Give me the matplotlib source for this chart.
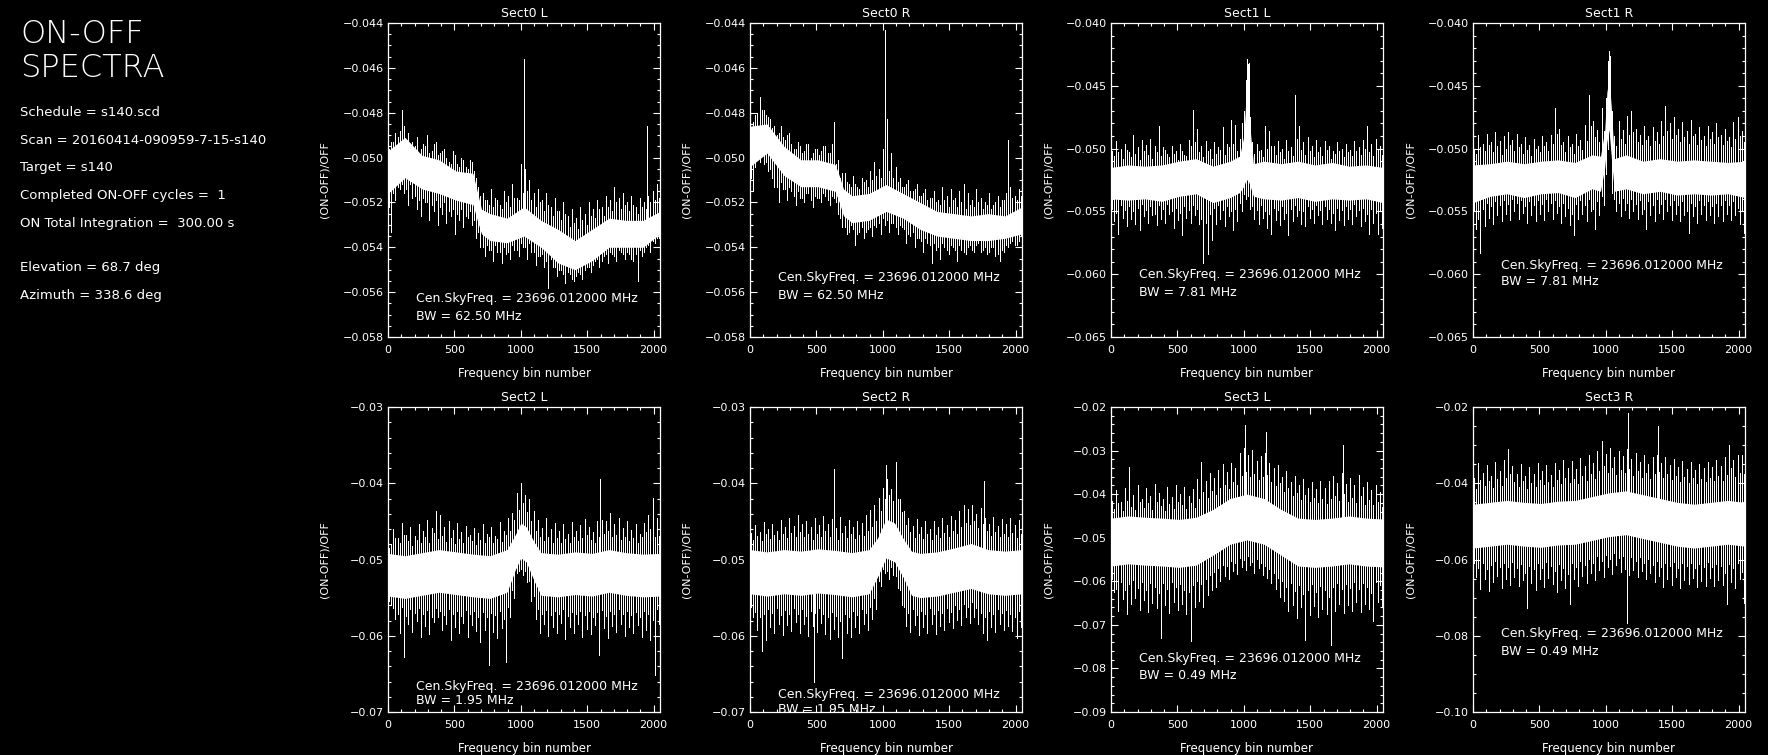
import numpy as np
import matplotlib
matplotlib.use("Agg")
import matplotlib.pyplot as plt
from matplotlib.ticker import MultipleLocator, FuncFormatter

# ---------------- data (values in units of 1e-3 of (ON-OFF)/OFF) ----------------
panel_titles = ["Sect0 L", "Sect0 R", "Sect1 L", "Sect1 R",
                "Sect2 L", "Sect2 R", "Sect3 L", "Sect3 R"]
bandwidths = ["62.50", "62.50", "7.81", "7.81", "1.95", "1.95", "0.49", "0.49"]
cen_freq = "23696.012000"

header = ["ON-OFF", "SPECTRA"]
info_lines = ["Schedule = s140.scd",
              "Scan = 20160414-090959-7-15-s140",
              "Target = s140",
              "Completed ON-OFF cycles =  1",
              "ON Total Integration =  300.00 s",
              "Elevation = 68.7 deg",
              "Azimuth = 338.6 deg"]

# channel columns at which the extents were read:
#   columns A (bins 8, 40, ...):  top = hi,  bottom = dn2
#   columns B (bins 24, 56, ...): top = up2, bottom = lo
bins_a = np.arange(8, 2048, 32)
bins_b = bins_a + 16

# ---- Sect0 L
s0l_core_bins = [0, 128, 256, 384, 512, 640, 672, 704, 768, 896, 1024, 1152, 1280, 1408, 1536, 1664, 1792, 1920, 2048]
s0l_core_top = [-49.7, -49.1, -49.9, -50.1, -50.6, -50.7, -51.5, -52.3, -52.5, -52.7, -52.2, -52.8, -53.2, -53.7, -53.2, -52.7, -52.8, -52.8, -52.4]
s0l_core_bot = [-51.6, -50.9, -51.4, -51.6, -51.9, -52.1, -52.8, -53.4, -53.7, -53.8, -53.5, -54.0, -54.7, -55.0, -54.6, -54.0, -54.0, -54.0, -53.4]
s0l_hi = [-49.6, -49.3, -49.1, -47.9, -49.2, -49.6, -49.5, -49.9, -49.4, -49.0, -49.7, -49.3, -49.8, -49.6, -50.2, -49.7,
          -50.3, -50.0, -50.4, -50.1, -50.6, -51.3, -51.6, -51.9, -51.4, -51.8, -52.1, -51.5, -51.7, -51.2, -51.8, -50.3,
          -50.5, -51.0, -51.6, -51.4, -51.9, -51.6, -52.2, -51.8, -52.4, -52.0, -52.6, -52.3, -52.7, -52.2, -52.5, -52.0,
          -52.3, -51.9, -52.2, -51.7, -51.9, -51.3, -51.8, -51.6, -52.0, -51.7, -52.2, -51.8, -52.0, -51.7, -51.5, -51.2]
s0l_up2 = [-49.3, -48.9, -48.8, -48.6, -48.9, -49.3, -49.1, -49.6, -49.5, -49.8, -49.4, -49.9, -49.7, -50.0, -50.3, -49.9,
           -50.4, -50.1, -50.5, -50.2, -50.9, -51.7, -51.9, -52.1, -52.2, -51.9, -52.3, -52.0, -52.2, -51.8, -51.9, -51.6,
           -51.5, -51.9, -52.2, -52.0, -52.4, -52.1, -52.6, -52.4, -52.8, -52.5, -53.1, -52.9, -53.2, -52.8, -53.0, -52.6,
           -52.7, -52.3, -52.6, -52.2, -52.4, -52.0, -52.3, -52.1, -52.4, -52.1, -52.5, -52.2, -52.3, -52.0, -51.9, -51.8]
s0l_lo = [-53.3, -51.9, -51.4, -51.6, -52.1, -51.8, -52.3, -52.6, -52.0, -52.8, -52.4, -53.0, -52.5, -52.9, -52.6, -53.4,
          -52.8, -53.1, -52.7, -53.0, -53.6, -54.0, -54.4, -54.1, -54.6, -54.2, -54.7, -54.3, -54.5, -54.1, -54.4, -54.0,
          -54.5, -54.2, -54.8, -54.4, -54.9, -55.8, -54.9, -55.3, -55.0, -55.6, -55.2, -55.5, -55.1, -55.4, -54.9, -55.1,
          -54.6, -54.9, -54.4, -54.7, -54.3, -54.6, -54.2, -54.5, -54.3, -54.6, -55.5, -54.4, -54.0, -54.2, -53.8, -53.6]
s0l_dn2 = [-52.2, -51.6, -51.3, -51.2, -51.4, -51.2, -51.7, -51.9, -51.8, -52.0, -52.1, -51.9, -52.2, -52.0, -52.4, -52.3,
           -52.5, -52.3, -52.6, -52.4, -52.8, -53.3, -54.0, -53.9, -54.1, -53.9, -54.2, -54.0, -54.2, -53.9, -54.1, -53.8,
           -54.0, -53.8, -54.2, -54.4, -54.3, -54.6, -54.5, -54.9, -55.0, -55.2, -55.1, -55.4, -55.3, -55.2, -55.0, -54.9,
           -54.8, -54.5, -54.6, -54.3, -54.2, -54.4, -54.1, -54.3, -54.2, -54.5, -54.3, -54.1, -54.2, -53.9, -53.7, -53.6]
s0l_spikes = [(1025, -45.6), (1950, -48.6)]

# ---- Sect0 R
s0r_core_bins = [0, 128, 256, 384, 512, 640, 672, 704, 768, 896, 1024, 1152, 1280, 1408, 1536, 1664, 1792, 1920, 2048]
s0r_core_top = [-48.6, -48.5, -49.5, -50.1, -50.1, -50.3, -50.8, -51.4, -51.7, -51.6, -51.2, -51.6, -52.0, -52.4, -52.5, -52.6, -52.5, -52.6, -52.2]
s0r_core_bot = [-50.4, -49.8, -50.8, -51.3, -51.3, -51.5, -52.0, -52.6, -52.9, -52.8, -52.4, -52.7, -53.2, -53.5, -53.6, -53.7, -53.7, -53.6, -53.4]
s0r_hi = [-48.9, -48.1, -47.3, -47.9, -48.2, -48.7, -49.0, -48.6, -49.2, -48.9, -49.6, -49.3, -49.8, -49.4, -50.0, -49.6,
          -49.9, -49.5, -49.8, -49.4, -50.3, -50.9, -50.7, -51.2, -50.8, -51.3, -50.9, -51.0, -50.6, -50.2, -50.5, -49.6,
          -48.3, -49.8, -50.4, -50.9, -51.3, -51.0, -51.5, -51.2, -51.7, -51.4, -51.8, -51.5, -51.9, -51.3, -51.7, -51.4,
          -51.8, -51.5, -51.2, -51.6, -51.9, -51.4, -51.8, -52.0, -51.6, -52.1, -51.7, -51.9, -51.6, -51.3, -51.7, -51.4]
s0r_up2 = [-48.4, -48.0, -47.9, -48.1, -48.3, -48.6, -48.9, -49.1, -49.0, -49.4, -49.6, -49.5, -49.7, -49.4, -49.8, -49.6,
           -49.7, -49.5, -49.8, -49.6, -50.1, -50.7, -51.1, -51.3, -51.2, -51.4, -51.1, -51.3, -51.0, -50.8, -50.9, -50.4,
           -50.6, -50.9, -51.1, -51.3, -51.2, -51.5, -51.4, -51.7, -51.6, -51.9, -51.8, -52.0, -52.1, -51.9, -52.2, -51.9,
           -52.2, -52.0, -52.3, -52.1, -52.2, -52.0, -52.3, -52.1, -52.3, -52.0, -52.2, -51.9, -52.1, -51.8, -51.9, -51.7]
s0r_lo = [-51.5, -50.0, -49.7, -50.2, -50.5, -51.3, -52.0, -51.4, -51.9, -51.5, -52.1, -51.8, -52.0, -51.6, -52.2, -51.8,
          -52.0, -51.7, -52.1, -51.8, -52.5, -53.1, -53.4, -53.0, -53.9, -53.3, -53.6, -53.2, -53.5, -53.1, -53.4, -53.0,
          -53.3, -52.9, -53.4, -53.1, -53.8, -53.5, -54.0, -53.6, -54.2, -53.8, -54.7, -54.1, -54.5, -54.0, -54.3, -54.0,
          -54.6, -54.1, -54.3, -53.9, -54.2, -53.8, -54.1, -54.3, -54.0, -54.4, -54.6, -54.2, -54.0, -53.7, -53.9, -53.5]
s0r_dn2 = [-50.9, -50.4, -50.2, -50.3, -50.6, -50.9, -51.3, -51.1, -51.4, -51.3, -51.7, -51.5, -51.8, -51.6, -51.9, -51.7,
           -51.8, -51.6, -51.9, -51.7, -52.0, -52.7, -53.1, -53.3, -53.2, -53.4, -53.1, -53.3, -53.1, -53.0, -52.9, -52.7,
           -52.8, -52.9, -53.1, -53.0, -53.2, -53.4, -53.3, -53.6, -53.7, -53.6, -53.9, -53.8, -54.0, -53.8, -54.1, -53.9,
           -54.1, -53.9, -54.2, -54.0, -54.1, -53.9, -54.2, -54.0, -54.2, -54.0, -54.3, -54.1, -53.9, -53.8, -53.9, -53.7]
s0r_spikes = [(1020, -44.3), (1945, -49.2), (630, -48.4)]

# ---- Sect1 L
s1l_core_bins = [0, 128, 256, 384, 512, 640, 768, 896, 968, 1000, 1016, 1032, 1048, 1072, 1152, 1280, 1408, 1536, 1664, 1792, 1920, 2048]
s1l_core_top = [-51.5, -51.3, -51.4, -51.3, -51.0, -50.8, -51.4, -51.0, -50.6, -49.0, -46.0, -45.5, -48.5, -51.2, -51.0, -51.2, -51.0, -51.3, -51.1, -51.4, -51.3, -51.5]
s1l_core_bot = [-54.0, -54.1, -54.0, -54.2, -53.8, -53.6, -54.3, -53.9, -53.5, -53.0, -52.5, -52.5, -53.0, -53.8, -54.0, -54.1, -53.9, -54.2, -54.0, -54.1, -54.0, -54.3]
s1l_hi = [-50.2, -49.4, -50.0, -49.6, -50.3, -48.9, -49.9, -49.3, -49.7, -49.2, -49.8, -48.2, -49.9, -50.4, -49.8, -50.2,
          -49.6, -50.5, -49.3, -46.9, -48.4, -49.8, -49.4, -50.0, -49.5, -49.9, -48.3, -49.6, -47.7, -48.1, -49.2, -47.0,
          -43.3, -49.5, -49.6, -50.1, -48.2, -48.6, -49.8, -49.4, -50.0, -49.3, -49.9, -45.7, -48.2, -49.5, -49.1, -49.8,
          -49.3, -49.9, -49.4, -49.8, -50.2, -49.5, -50.0, -49.6, -50.1, -49.4, -49.9, -49.3, -48.2, -49.6, -49.2, -49.8]
s1l_up2 = [-50.6, -50.3, -50.8, -50.1, -50.7, -50.4, -50.9, -50.2, -50.5, -50.8, -50.3, -50.6, -50.1, -50.7, -50.4, -50.9,
           -50.2, -50.6, -49.8, -49.5, -50.3, -50.7, -50.2, -50.8, -50.4, -50.1, -50.5, -49.9, -49.6, -50.2, -48.0, -44.5,
           -47.5, -50.4, -50.2, -50.7, -50.0, -49.8, -50.5, -50.3, -50.8, -50.2, -50.6, -49.2, -50.1, -50.5, -50.2, -50.7,
           -50.3, -50.6, -50.1, -50.8, -50.4, -50.2, -50.7, -50.3, -50.6, -50.2, -50.5, -50.0, -50.3, -50.6, -50.1, -50.5]
s1l_lo = [-55.8, -56.8, -55.5, -56.2, -55.6, -56.0, -56.5, -55.4, -55.9, -55.3, -56.1, -55.6, -55.9, -55.2, -56.3, -55.7,
          -56.9, -55.5, -55.9, -55.3, -56.0, -59.1, -58.4, -57.3, -56.0, -55.6, -56.2, -55.4, -56.5, -55.8, -55.0, -54.0,
          -54.8, -55.6, -56.0, -55.5, -56.3, -56.8, -55.7, -56.1, -55.6, -56.9, -55.8, -55.4, -56.0, -56.2, -55.5, -55.9,
          -55.3, -56.0, -55.6, -55.9, -56.5, -55.7, -56.1, -55.6, -56.0, -55.4, -56.2, -55.8, -56.8, -55.9, -56.8, -56.3]
s1l_dn2 = [-54.8, -55.1, -54.5, -54.9, -54.6, -55.0, -54.7, -54.4, -54.9, -54.6, -55.2, -54.5, -54.8, -54.4, -55.0, -54.7,
           -55.1, -54.6, -54.9, -54.5, -54.8, -55.6, -55.9, -55.2, -54.7, -54.5, -54.9, -54.6, -55.0, -54.8, -54.3, -53.6,
           -53.8, -54.6, -54.9, -54.5, -55.0, -55.2, -54.7, -54.9, -54.6, -55.1, -54.8, -54.5, -54.9, -55.0, -54.6, -54.8,
           -54.5, -54.9, -54.6, -54.8, -55.1, -54.7, -54.9, -54.6, -54.8, -54.4, -54.9, -54.7, -55.2, -54.8, -55.1, -54.9]
s1l_spikes = [(1024, -42.9), (1036, -43.2)]

# ---- Sect1 R
s1r_core_bins = [0, 128, 256, 384, 512, 640, 768, 896, 960, 992, 1008, 1024, 1040, 1064, 1152, 1280, 1408, 1536, 1664, 1792, 1920, 2048]
s1r_core_top = [-51.3, -51.2, -51.0, -51.2, -51.0, -50.9, -51.1, -50.5, -50.6, -48.5, -45.5, -44.5, -46.5, -50.8, -50.5, -51.0, -50.8, -51.0, -50.9, -51.0, -51.1, -51.0]
s1r_core_bot = [-54.3, -53.8, -53.6, -53.9, -53.6, -53.5, -53.9, -53.2, -53.4, -51.5, -49.5, -48.5, -50.5, -53.4, -53.2, -53.6, -53.4, -53.7, -53.6, -53.7, -53.6, -53.9]
s1r_hi = [-50.0, -48.9, -49.6, -48.8, -49.5, -48.7, -49.4, -49.0, -48.7, -49.3, -48.8, -49.6, -49.1, -49.7, -49.2, -49.8,
          -49.0, -49.5, -48.9, -46.8, -48.4, -49.5, -49.0, -49.6, -48.8, -49.3, -48.1, -45.7, -47.8, -48.5, -46.8, -46.0,
          -43.5, -49.0, -47.8, -48.5, -47.4, -47.0, -48.4, -48.9, -48.2, -49.0, -48.3, -48.7, -47.8, -46.6, -48.0, -47.5,
          -48.4, -47.9, -48.6, -47.7, -48.8, -48.3, -49.0, -48.2, -48.7, -48.0, -48.9, -48.4, -49.1, -47.9, -47.5, -48.6]
s1r_up2 = [-50.4, -49.9, -50.2, -49.7, -50.3, -49.8, -50.5, -50.0, -49.7, -50.2, -49.9, -50.4, -50.1, -50.6, -50.0, -50.3,
           -49.8, -50.2, -49.6, -48.8, -49.7, -50.3, -49.9, -50.4, -49.8, -50.1, -49.4, -48.2, -49.1, -49.5, -48.6, -43.0,
           -47.0, -49.8, -49.2, -49.6, -48.9, -48.7, -49.5, -49.7, -49.3, -49.8, -49.4, -49.6, -49.0, -48.6, -49.2, -48.9,
           -49.5, -49.1, -49.6, -49.0, -49.7, -49.3, -49.8, -49.2, -49.6, -49.1, -49.7, -49.4, -49.9, -49.2, -49.0, -49.5]
s1r_lo = [-56.4, -58.3, -56.2, -55.5, -56.0, -55.3, -55.8, -55.2, -55.7, -55.0, -55.6, -55.1, -55.9, -55.3, -55.8, -55.2,
          -55.7, -55.0, -55.6, -55.1, -55.9, -55.4, -56.1, -56.9, -55.6, -55.2, -55.8, -55.0, -56.4, -55.3, -54.5, -50.0,
          -53.5, -55.0, -55.4, -54.9, -55.5, -55.0, -55.6, -55.2, -56.4, -55.3, -55.8, -55.1, -55.6, -55.0, -55.7, -55.2,
          -55.8, -55.3, -56.7, -55.4, -55.9, -55.2, -55.7, -55.3, -55.9, -55.4, -55.8, -55.2, -55.7, -55.3, -56.0, -56.7]
s1r_dn2 = [-54.9, -55.6, -54.8, -54.3, -54.6, -54.2, -54.5, -54.1, -54.4, -54.0, -54.3, -54.1, -54.6, -54.2, -54.5, -54.1,
           -54.4, -54.0, -54.3, -54.1, -54.6, -54.3, -54.7, -55.2, -54.4, -54.1, -54.5, -54.0, -54.8, -54.2, -53.8, -52.0,
           -49.0, -54.0, -54.3, -53.9, -54.3, -54.0, -54.4, -54.1, -54.8, -54.2, -54.5, -54.0, -54.4, -54.0, -54.5, -54.1,
           -54.5, -54.2, -55.0, -54.3, -54.6, -54.1, -54.5, -54.2, -54.6, -54.3, -54.5, -54.1, -54.5, -54.2, -54.7, -55.0]
s1r_spikes = [(1022, -42.2), (1030, -42.6)]

# ---- Sect2 L
s2l_core_bins = [0, 128, 256, 384, 512, 640, 768, 896, 960, 1000, 1040, 1100, 1152, 1280, 1408, 1536, 1664, 1792, 1920, 2048]
s2l_core_top = [-49.2, -49.5, -49.1, -48.7, -49.0, -49.3, -49.5, -48.7, -46.7, -45.2, -45.7, -47.7, -49.1, -49.3, -49.0, -49.2, -48.7, -49.1, -49.3, -49.2]
s2l_core_bot = [-54.8, -55.1, -54.7, -54.3, -54.6, -54.9, -55.1, -54.3, -51.3, -49.8, -50.3, -52.8, -54.7, -54.9, -54.6, -54.8, -54.3, -54.7, -54.9, -54.8]
s2l_hi = [-48.5, -46.0, -47.2, -45.2, -46.8, -45.8, -46.9, -45.4, -46.3, -44.8, -45.9, -43.6, -44.2, -45.7, -44.9, -46.1,
          -45.2, -46.4, -45.6, -46.8, -45.9, -46.5, -45.3, -46.7, -45.8, -46.9, -45.1, -46.2, -44.5, -43.9, -41.3, -40.0,
          -41.5, -42.1, -43.7, -44.8, -45.9, -44.6, -46.0, -45.2, -46.3, -45.4, -46.6, -45.1, -46.2, -45.5, -44.7, -45.8,
          -46.4, -45.0, -44.8, -44.9, -43.9, -45.3, -44.6, -45.9, -45.0, -46.1, -45.4, -46.6, -45.2, -44.1, -41.9, -44.5]
s2l_up2 = [-48.0, -47.2, -47.9, -46.8, -47.6, -48.2, -47.4, -47.9, -47.1, -47.8, -46.5, -47.3, -46.9, -47.7, -47.2, -48.0,
           -47.3, -47.9, -47.0, -47.6, -48.1, -47.4, -47.8, -47.1, -47.9, -47.3, -47.7, -46.8, -46.2, -44.8, -43.5, -42.6,
           -43.8, -44.9, -46.3, -47.0, -47.6, -47.1, -47.8, -47.2, -47.9, -47.3, -47.8, -47.0, -47.6, -47.2, -46.8, -47.5,
           -47.9, -47.1, -46.6, -46.3, -47.0, -46.8, -47.4, -47.0, -47.6, -47.2, -47.8, -47.1, -46.4, -46.0, -47.1, -46.9]
s2l_lo = [-56.0, -57.8, -59.6, -62.8, -58.4, -59.5, -58.1, -60.2, -58.7, -59.8, -58.2, -57.6, -59.3, -58.5, -60.6, -58.9,
          -59.7, -58.3, -60.1, -58.6, -59.4, -60.8, -59.2, -63.8, -59.5, -60.3, -59.0, -63.4, -57.5, -55.0, -51.5, -52.0,
          -53.0, -55.5, -57.8, -59.6, -58.4, -60.0, -58.8, -59.7, -58.3, -60.4, -58.9, -59.6, -58.5, -60.2, -59.1, -59.8,
          -58.6, -62.5, -59.0, -60.3, -58.7, -59.5, -58.4, -60.0, -58.9, -59.7, -58.6, -60.1, -59.2, -60.5, -65.1, -58.5]
s2l_dn2 = [-55.5, -56.3, -57.1, -56.2, -57.4, -56.5, -57.0, -56.4, -57.2, -56.6, -57.5, -56.3, -56.8, -57.3, -56.5, -57.1,
           -56.7, -57.4, -56.6, -57.2, -56.8, -57.5, -56.9, -57.6, -57.0, -57.3, -56.7, -57.8, -56.2, -54.0, -51.8, -51.2,
           -51.5, -52.8, -54.8, -56.5, -57.1, -56.6, -57.3, -56.8, -57.2, -56.5, -57.4, -56.9, -57.2, -56.7, -57.3, -56.8,
           -57.5, -56.9, -56.6, -57.4, -56.8, -57.2, -56.5, -57.1, -56.7, -57.3, -56.9, -57.5, -56.8, -57.2, -57.9, -56.5]
s2l_spikes = [(1598, -39.4)]

# ---- Sect2 R
s2r_core_bins = [0, 128, 256, 384, 512, 640, 768, 896, 960, 1024, 1088, 1152, 1216, 1280, 1408, 1536, 1664, 1792, 1920, 2048]
s2r_core_top = [-48.7, -49.0, -48.7, -48.9, -48.6, -48.8, -49.1, -48.7, -47.2, -44.7, -45.2, -47.2, -48.9, -49.2, -49.0, -48.5, -47.9, -48.7, -48.9, -48.7]
s2r_core_bot = [-54.5, -54.8, -54.5, -54.7, -54.4, -54.6, -54.9, -54.5, -52.3, -49.8, -50.3, -52.3, -54.7, -55.0, -54.8, -54.3, -53.8, -54.5, -54.7, -54.5]
s2r_hi = [-46.5, -45.5, -46.4, -45.1, -46.0, -45.3, -46.2, -44.8, -45.7, -44.5, -45.6, -44.2, -45.3, -44.9, -45.8, -44.6,
          -45.5, -44.3, -45.4, -44.7, -45.9, -44.4, -45.6, -44.8, -45.7, -44.9, -45.2, -44.1, -43.5, -42.8, -41.9, -40.6,
          -39.5, -40.8, -39.8, -42.0, -43.6, -44.5, -45.6, -44.7, -45.8, -44.9, -46.0, -45.0, -45.7, -44.6, -45.5, -44.3,
          -44.8, -43.6, -42.8, -43.4, -42.9, -44.0, -43.2, -44.5, -45.3, -44.4, -45.6, -44.7, -45.4, -44.6, -45.5, -44.8]
s2r_up2 = [-47.5, -46.9, -47.6, -46.7, -47.3, -46.8, -47.5, -46.6, -47.2, -46.5, -47.1, -46.4, -47.0, -46.7, -47.4, -46.6,
           -47.1, -46.3, -47.0, -46.6, -47.4, -46.5, -47.2, -46.7, -47.3, -46.8, -46.9, -46.2, -45.8, -45.0, -43.6, -42.0,
           -41.5, -42.3, -42.0, -43.8, -45.5, -46.4, -47.2, -46.6, -47.3, -46.7, -47.5, -46.8, -47.2, -46.5, -47.0, -46.2,
           -46.6, -45.7, -45.2, -45.5, -45.0, -45.9, -45.4, -46.3, -46.9, -46.4, -47.1, -46.6, -47.0, -46.5, -47.2, -46.7]
s2r_lo = [-57.5, -59.2, -62.0, -60.5, -58.8, -59.6, -58.4, -59.9, -58.6, -59.4, -58.2, -59.7, -58.5, -60.0, -58.7, -59.5,
          -58.3, -59.8, -60.4, -59.1, -60.2, -62.9, -59.6, -60.1, -58.9, -59.7, -58.4, -59.2, -57.8, -56.5, -53.5, -51.8,
          -52.5, -52.0, -53.8, -56.0, -58.7, -59.5, -58.6, -59.9, -58.8, -59.6, -58.5, -59.8, -58.7, -59.3, -58.2, -59.0,
          -57.9, -58.6, -57.6, -58.3, -57.5, -58.4, -59.6, -60.5, -58.8, -59.5, -58.4, -59.2, -58.7, -59.4, -60.3, -58.9]
s2r_dn2 = [-56.2, -56.9, -57.6, -57.2, -56.5, -57.0, -56.4, -57.3, -56.6, -57.1, -56.3, -57.2, -56.5, -57.4, -56.7, -57.0,
           -56.4, -57.2, -57.5, -56.9, -57.4, -58.0, -57.1, -57.6, -56.8, -57.3, -56.5, -57.0, -56.2, -55.0, -52.8, -51.2,
           -51.5, -51.0, -52.2, -54.0, -56.2, -57.0, -56.5, -57.3, -56.7, -57.1, -56.4, -57.2, -56.6, -57.0, -56.3, -56.9,
           -56.0, -56.5, -55.8, -56.2, -55.6, -56.3, -57.0, -57.6, -56.7, -57.2, -56.5, -57.0, -56.6, -57.1, -57.5, -56.8]
s2r_spikes = [(635, -38.1), (1765, -39.7), (1100, -37.2), (1025, -37.6), (480, -66.0)]

# ---- Sect3 L
s3l_core_bins = [0, 128, 256, 384, 512, 640, 768, 896, 1024, 1152, 1280, 1408, 1536, 1664, 1792, 1920, 2048]
s3l_core_top = [-45.5, -45.0, -45.3, -45.5, -45.8, -45.3, -43.5, -41.0, -40.0, -41.0, -43.5, -45.5, -45.8, -45.5, -45.0, -45.5, -45.7]
s3l_core_bot = [-56.5, -56.0, -56.3, -56.5, -56.8, -56.3, -54.0, -51.5, -50.5, -51.5, -54.0, -56.5, -56.8, -56.5, -56.0, -56.5, -56.7]
s3l_hi = [-41.5, -39.0, -41.8, -38.5, -33.8, -40.2, -38.0, -41.0, -38.6, -40.5, -37.6, -39.8, -41.2, -38.4, -40.6, -37.9,
          -39.9, -38.3, -40.4, -38.8, -36.5, -32.6, -36.9, -35.2, -36.4, -34.5, -33.1, -35.0, -32.8, -33.9, -30.6, -29.5,
          -31.0, -29.8, -32.3, -31.2, -30.5, -32.8, -34.1, -33.2, -36.0, -34.6, -37.2, -35.8, -38.0, -36.5, -38.6, -37.1,
          -38.8, -36.9, -38.5, -37.0, -35.8, -37.4, -35.1, -37.6, -36.2, -38.0, -35.6, -38.3, -37.2, -39.0, -37.8, -39.5]
s3l_up2 = [-43.5, -42.0, -43.8, -41.6, -42.9, -43.6, -41.8, -43.2, -42.1, -43.7, -41.9, -42.8, -43.9, -42.2, -43.4, -41.7,
           -42.6, -43.5, -42.0, -43.1, -41.2, -39.5, -40.8, -39.2, -40.1, -38.6, -37.9, -38.8, -37.2, -37.8, -35.9, -35.0,
           -36.1, -35.4, -36.8, -36.0, -35.6, -37.1, -38.2, -37.5, -39.4, -38.6, -40.5, -39.8, -41.3, -40.2, -41.8, -40.9,
           -42.0, -41.1, -42.3, -41.0, -40.4, -41.6, -40.0, -41.8, -40.8, -42.1, -40.5, -42.4, -41.3, -42.6, -41.7, -42.9]
s3l_lo = [-62.5, -66.8, -64.0, -67.5, -65.2, -63.8, -66.5, -64.3, -67.0, -65.0, -66.2, -73.0, -65.5, -67.2, -64.8, -66.6,
          -65.3, -67.4, -73.8, -66.0, -64.5, -65.8, -63.2, -62.0, -61.2, -60.0, -58.8, -59.5, -57.6, -58.3, -56.8, -57.5,
          -56.2, -58.0, -57.0, -58.6, -59.3, -60.5, -61.8, -63.5, -64.6, -66.8, -65.4, -68.5, -66.0, -73.5, -67.8, -65.6,
          -68.2, -66.3, -67.6, -74.6, -66.8, -65.1, -67.3, -65.5, -66.9, -64.8, -67.0, -65.2, -66.4, -69.2, -64.7, -65.9]
s3l_dn2 = [-59.5, -61.8, -60.2, -62.0, -60.6, -59.8, -61.5, -60.1, -61.9, -60.4, -61.2, -62.8, -60.5, -61.7, -60.2, -61.4,
           -60.6, -61.9, -62.5, -60.9, -60.0, -60.7, -59.4, -58.5, -57.9, -57.0, -56.2, -56.6, -55.3, -55.8, -54.6, -55.0,
           -54.2, -55.5, -54.8, -55.9, -56.4, -57.2, -58.1, -59.3, -60.0, -61.4, -60.5, -62.3, -60.8, -63.0, -61.9, -60.7,
           -62.4, -61.0, -62.0, -63.5, -61.2, -60.4, -61.8, -60.6, -61.5, -60.2, -61.7, -60.5, -61.3, -62.6, -60.1, -60.9]
s3l_spikes = [(1010, -24.2), (1165, -25.7), (1745, -28.8)]

# ---- Sect3 R
s3r_core_bins = [0, 128, 256, 384, 512, 640, 768, 896, 1024, 1152, 1280, 1408, 1536, 1664, 1792, 1920, 2048]
s3r_core_top = [-45.5, -45.0, -44.5, -45.0, -45.3, -44.7, -44.5, -43.5, -42.5, -42.0, -43.0, -44.0, -45.0, -45.5, -45.0, -44.5, -45.0]
s3r_core_bot = [-57.0, -56.5, -56.0, -56.5, -56.8, -56.2, -56.0, -55.0, -54.0, -53.5, -54.5, -55.5, -56.5, -57.0, -56.5, -56.0, -56.5]
s3r_hi = [-38.5, -34.8, -37.2, -35.1, -38.0, -34.5, -36.8, -33.9, -30.9, -35.6, -37.5, -35.0, -38.2, -35.8, -37.6, -34.7,
          -36.9, -35.3, -37.8, -34.6, -36.5, -33.8, -35.9, -34.2, -36.3, -33.5, -35.4, -32.6, -34.8, -31.5, -29.0, -32.4,
          -30.8, -33.2, -31.6, -32.9, -31.0, -33.6, -32.0, -34.3, -32.7, -34.9, -33.1, -32.5, -34.6, -33.0, -35.2, -33.7,
          -35.8, -34.1, -36.2, -34.5, -36.6, -34.9, -36.0, -34.4, -35.7, -33.8, -35.5, -33.2, -29.9, -34.0, -32.6, -32.5]
s3r_up2 = [-41.5, -39.2, -40.8, -39.5, -41.2, -39.0, -40.6, -38.7, -37.5, -39.8, -41.0, -39.3, -41.4, -39.9, -40.9, -39.1,
           -40.5, -39.6, -41.1, -39.2, -40.3, -38.5, -39.9, -38.8, -40.1, -38.2, -39.4, -37.6, -38.9, -36.8, -35.5, -37.2,
           -36.0, -37.8, -36.5, -37.4, -36.2, -38.0, -36.8, -38.5, -37.2, -38.9, -37.6, -37.0, -38.7, -37.5, -39.2, -38.1,
           -39.6, -38.4, -39.9, -38.7, -40.2, -39.0, -39.8, -38.6, -39.5, -38.2, -39.3, -37.8, -36.0, -38.4, -37.4, -37.5]
s3r_lo = [-64.5, -67.8, -65.0, -68.2, -66.0, -64.3, -67.4, -65.2, -66.8, -64.6, -67.0, -65.5, -72.7, -66.2, -68.0, -65.1,
          -67.3, -64.8, -66.5, -68.5, -65.4, -67.6, -71.8, -65.0, -66.9, -64.2, -66.1, -63.5, -65.3, -62.8, -64.5, -62.0,
          -63.7, -61.5, -63.2, -62.5, -64.0, -62.8, -64.6, -63.0, -65.2, -63.6, -66.0, -64.4, -67.1, -65.0, -66.8, -64.7,
          -67.5, -65.3, -66.4, -64.9, -67.2, -65.6, -66.9, -64.8, -67.0, -65.4, -66.6, -71.8, -65.8, -67.4, -65.2, -71.5]
s3r_dn2 = [-60.8, -62.3, -61.0, -62.6, -61.5, -60.4, -62.0, -61.0, -61.9, -60.6, -62.2, -61.2, -63.5, -61.6, -62.4, -60.9,
           -62.1, -60.7, -61.8, -62.9, -61.3, -62.2, -63.8, -60.9, -61.9, -60.3, -61.4, -59.8, -60.9, -59.2, -60.3, -58.8,
           -59.9, -58.4, -59.6, -59.0, -60.2, -59.3, -60.5, -59.4, -60.9, -59.8, -61.4, -60.4, -62.0, -60.9, -61.7, -60.6,
           -62.2, -61.0, -61.6, -60.8, -62.1, -61.3, -61.9, -60.7, -62.0, -61.1, -61.7, -63.5, -61.2, -62.2, -61.0, -63.2]
s3r_spikes = [(1170, -21.6), (1390, -25.1), (1160, -76.6)]

core_bins = [s0l_core_bins, s0r_core_bins, s1l_core_bins, s1r_core_bins,
             s2l_core_bins, s2r_core_bins, s3l_core_bins, s3r_core_bins]
core_top = [s0l_core_top, s0r_core_top, s1l_core_top, s1r_core_top,
            s2l_core_top, s2r_core_top, s3l_core_top, s3r_core_top]
core_bot = [s0l_core_bot, s0r_core_bot, s1l_core_bot, s1r_core_bot,
            s2l_core_bot, s2r_core_bot, s3l_core_bot, s3r_core_bot]
his = [s0l_hi, s0r_hi, s1l_hi, s1r_hi, s2l_hi, s2r_hi, s3l_hi, s3r_hi]
up2s = [s0l_up2, s0r_up2, s1l_up2, s1r_up2, s2l_up2, s2r_up2, s3l_up2, s3r_up2]
los = [s0l_lo, s0r_lo, s1l_lo, s1r_lo, s2l_lo, s2r_lo, s3l_lo, s3r_lo]
dn2s = [s0l_dn2, s0r_dn2, s1l_dn2, s1r_dn2, s2l_dn2, s2r_dn2, s3l_dn2, s3r_dn2]
spikes = [s0l_spikes, s0r_spikes, s1l_spikes, s1r_spikes,
          s2l_spikes, s2r_spikes, s3l_spikes, s3r_spikes]

ylims = [(-0.058, -0.044), (-0.058, -0.044), (-0.065, -0.040), (-0.065, -0.040),
         (-0.07, -0.03), (-0.07, -0.03), (-0.09, -0.02), (-0.10, -0.02)]
ymajor = [0.002, 0.002, 0.005, 0.005, 0.01, 0.01, 0.01, 0.02]
yminor = [0.0005, 0.0005, 0.001, 0.001, 0.002, 0.002, 0.002, 0.005]
ydec = [3, 3, 3, 3, 2, 2, 2, 2]
XMAX = 2048

# ---------------- layout ----------------
W, H, DPI = 1768, 755, 100
col_left = [388, 750, 1111, 1473]
ax_w = 272
row_top = [23, 407]
row_bot = [337, 712]
ann_y = [(0.124, 0.064), (0.19, 0.133), (0.20, 0.143), (0.229, 0.178),
         (0.085, 0.039), (0.059, 0.007), (0.177, 0.121), (0.256, 0.197)]

plt.rcParams["font.family"] = ["DejaVu Sans"]
fig = plt.figure(figsize=(W / DPI, H / DPI), dpi=DPI, facecolor="black")

FG = "white"
fig.text(20 / W, 1 - 34 / H, header[0], color=FG, fontsize=23, va="center", ha="left", fontweight="light")
fig.text(20 / W, 1 - 68 / H, header[1], color=FG, fontsize=23, va="center", ha="left", fontweight="light")
info_y = [112, 140, 167, 195, 223, 267, 295]
for txt, yy in zip(info_lines, info_y):
    fig.text(20 / W, 1 - yy / H, txt, color=FG, fontsize=9.5, va="center", ha="left")


def fmt_factory(d):
    def f(v, pos):
        return f"{v:.{d}f}".replace("-", "\u2212")
    return FuncFormatter(f)


for k in range(8):
    r, c = divmod(k, 4)
    left = col_left[c]
    top, bot = row_top[r], row_bot[r]
    ax = fig.add_axes([left / W, 1 - bot / H, ax_w / W, (bot - top) / H])
    ax.set_facecolor("black")
    for s in ax.spines.values():
        s.set_color(FG)
        s.set_linewidth(0.9)

    cb = np.array(core_bins[k])
    ct = np.array(core_top[k]) * 1e-3
    cbt = np.array(core_bot[k]) * 1e-3

    # channel columns (vertical extent of the spectrum in each read column)
    ax.vlines(bins_a, np.array(dn2s[k]) * 1e-3, np.array(his[k]) * 1e-3, color=FG, lw=0.7,
              antialiased=False)
    ax.vlines(bins_b, np.array(los[k]) * 1e-3, np.array(up2s[k]) * 1e-3, color=FG, lw=0.7,
              antialiased=False)
    # dense central band
    ax.fill_between(cb, cbt, ct, color=FG, lw=0)

    for b, v in spikes[k]:
        idx = int(np.argmin(np.abs(cb - b)))
        base = 0.5 * (ct[idx] + cbt[idx])
        ax.plot([b, b], [base, v * 1e-3], color=FG, lw=0.7, antialiased=False)

    ax.set_xlim(0, XMAX)
    ax.set_ylim(*ylims[k])
    ax.xaxis.set_major_locator(MultipleLocator(500))
    ax.xaxis.set_minor_locator(MultipleLocator(100))
    ax.yaxis.set_major_locator(MultipleLocator(ymajor[k]))
    ax.yaxis.set_minor_locator(MultipleLocator(yminor[k]))
    ax.yaxis.set_major_formatter(fmt_factory(ydec[k]))
    ax.tick_params(which="both", direction="in", top=True, right=True, colors=FG)
    ax.tick_params(which="major", length=5, width=0.8)
    ax.tick_params(which="minor", length=2.5, width=0.8)
    ax.tick_params(axis="x", labelsize=8, pad=6)
    ax.tick_params(axis="y", labelsize=8, pad=3)

    ax.set_title(panel_titles[k], color=FG, fontsize=9, pad=4)
    ax.set_xlabel("Frequency bin number", color=FG, fontsize=8.5)
    ax.xaxis.set_label_coords(0.5, -30 / (bot - top))
    ax.set_ylabel("(ON-OFF)/OFF", color=FG, fontsize=8)
    ax.yaxis.set_label_coords(-58 / ax_w, 0.5)

    ax.text(0.103, ann_y[k][0], f"Cen.SkyFreq. = {cen_freq} MHz", transform=ax.transAxes,
            color=FG, fontsize=9, va="center", ha="left")
    ax.text(0.103, ann_y[k][1], f"BW = {bandwidths[k]} MHz", transform=ax.transAxes,
            color=FG, fontsize=9, va="center", ha="left")

fig.savefig("out.png", dpi=DPI, facecolor="black")
